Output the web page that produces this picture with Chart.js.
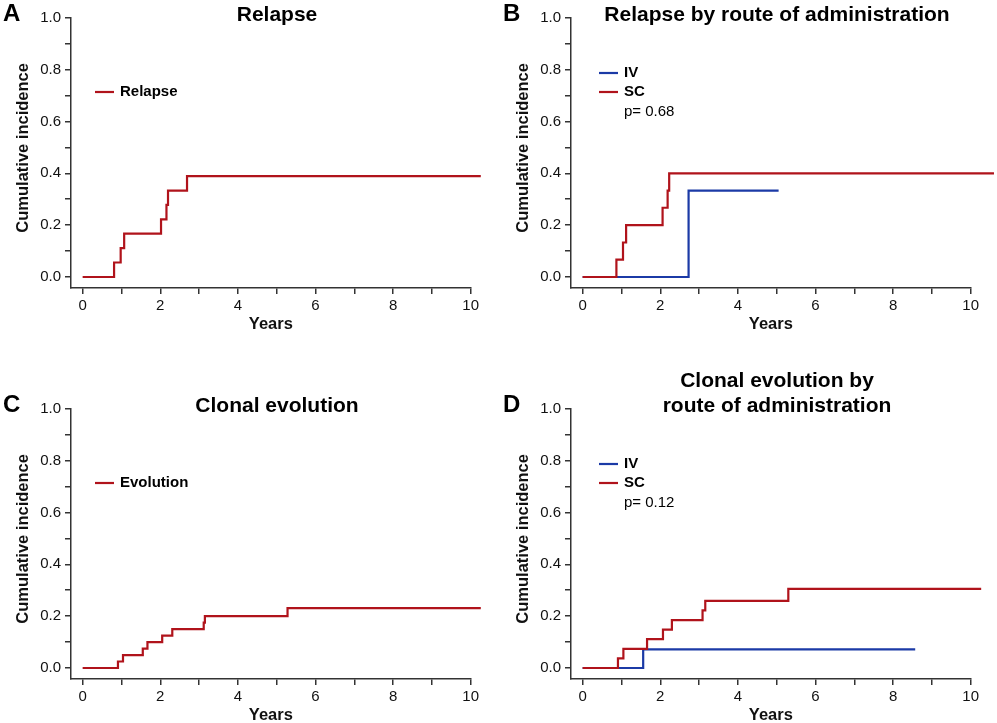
<!DOCTYPE html>
<html>
<head>
<meta charset="utf-8">
<script src="https://cdn.jsdelivr.net/npm/chart.js@4.4.1/dist/chart.umd.min.js"></script>
<style>
html,body{margin:0;padding:0;background:#fff;overflow:hidden;width:997px;height:723px;}
.panel{position:absolute;width:497px;height:370px;}
</style>
</head>
<body>
<div class="panel" style="left:0;top:-30px"><canvas id="chartA" width="497" height="370"></canvas></div>
<div class="panel" style="left:500px;top:-30px"><canvas id="chartB" width="497" height="370"></canvas></div>
<div class="panel" style="left:0;top:361px"><canvas id="chartC" width="497" height="370"></canvas></div>
<div class="panel" style="left:500px;top:361px"><canvas id="chartD" width="497" height="370"></canvas></div>
<script>
// cumulative incidence curves (years, incidence)
const relapseT = [0, 0.81, 0.98, 1.07, 2.02, 2.16, 2.20, 2.69, 10.26];
const relapseV = [0, 0.056, 0.111, 0.167, 0.222, 0.278, 0.333, 0.389, 0.389];

const relapseIvT = [0, 2.73, 5.05];
const relapseIvV = [0, 0.333, 0.333];
const relapseScT = [0, 0.87, 1.04, 1.12, 2.06, 2.19, 2.23, 10.6];
const relapseScV = [0, 0.067, 0.133, 0.2, 0.267, 0.333, 0.4, 0.4];

const evolutionT = [0, 0.91, 1.04, 1.55, 1.67, 2.05, 2.31, 3.12, 3.15, 5.28, 10.26];
const evolutionV = [0, 0.025, 0.05, 0.075, 0.1, 0.125, 0.15, 0.175, 0.2, 0.231, 0.231];

const evolutionIvT = [0, 1.56, 8.57];
const evolutionIvV = [0, 0.072, 0.072];
const evolutionScT = [0, 0.91, 1.05, 1.66, 2.07, 2.30, 3.09, 3.16, 5.30, 10.27];
const evolutionScV = [0, 0.037, 0.074, 0.111, 0.148, 0.185, 0.222, 0.259, 0.305, 0.305];

const xLabels = ['0', '2', '4', '6', '8', '10'];
const yLabels = ['0.0', '0.2', '0.4', '0.6', '0.8', '1.0'];

const FONT = "'Liberation Sans', Arial, Helvetica, sans-serif";
const RED = '#b0131b', BLUE = '#1b3aa6', AXIS = '#333';

Chart.defaults.font.family = FONT;
Chart.defaults.color = '#111';

function pts(t, v){ return t.map((x,i)=>({x:x, y:v[i]})); }

function curve(label, t, v, color, order){
  return {label:label, data:pts(t,v), borderColor:color, backgroundColor:color,
    borderWidth:2.2, pointRadius:0, stepped:true, fill:false, clip:false, order:order||1};
}

// panel letter, title, y title and in-plot legend
function decor(letter, titleLines, items, note, lx, ly){
  return {id:'decor', afterDraw(chart){
    const ctx=chart.ctx, a=chart.chartArea;
    ctx.save();
    ctx.fillStyle='#000';
    ctx.textBaseline='middle';
    ctx.textAlign='left';
    ctx.font='bold 24px '+FONT;
    ctx.fillText(letter, 3, 44);
    ctx.textAlign='center';
    ctx.font='bold 21px '+FONT;
    titleLines.forEach((t,i)=>ctx.fillText(t, a.left+206, 45-(titleLines.length-1-i)*24.5));
    ctx.save();
    ctx.translate(23.5, (a.top+a.bottom)/2-5);
    ctx.rotate(-Math.PI/2);
    ctx.font='bold 16.5px '+FONT;
    ctx.fillStyle='#111';
    ctx.fillText('Cumulative incidence', 0, 0);
    ctx.restore();
    ctx.textAlign='left';
    items.forEach((it,i)=>{
      const y=ly+i*19;
      ctx.strokeStyle=it.color; ctx.lineWidth=2.2;
      ctx.beginPath(); ctx.moveTo(lx,y); ctx.lineTo(lx+19,y); ctx.stroke();
      ctx.font='bold 15px '+FONT;
      ctx.fillText(it.label, lx+25, y);
    });
    if(note){
      ctx.font='15px '+FONT;
      ctx.fillText(note, lx+25, ly+items.length*19+1);
    }
    ctx.restore();
  }};
}

function makeChart(id, datasets, plugin){
  new Chart(document.getElementById(id).getContext('2d'),{
    type:'line',
    data:{datasets:datasets},
    plugins:[plugin],
    options:{
      responsive:false, animation:false, events:[],
      layout:{padding:{top:47.7, right:26.3, left:0, bottom:0}},
      plugins:{legend:{display:false}, tooltip:{enabled:false}},
      scales:{
        x:{type:'linear', min:-0.3, max:10,
          afterFit(s){ s.height=52; },
          border:{display:true, color:AXIS, width:1.5},
          grid:{drawOnChartArea:false, color:AXIS, lineWidth:1.5, tickLength:6},
          ticks:{stepSize:1, includeBounds:false, autoSkip:false, maxRotation:0, padding:3,
            font:{size:15}, color:'#111',
            callback:v=>(v%2===0 ? xLabels[v/2] : '')},
          title:{display:true, text:'Years', font:{size:16.5, weight:'bold'}, color:'#111', padding:{top:0, bottom:6}}
        },
        y:{min:-0.0424, max:1,
          afterFit(s){ s.width=71; },
          border:{display:true, color:AXIS, width:1.5},
          grid:{drawOnChartArea:false, color:AXIS, lineWidth:1.5, tickLength:6},
          ticks:{stepSize:0.1, includeBounds:false, autoSkip:false, padding:4,
            font:{size:15}, color:'#111',
            callback:v=>{ const k=Math.round(v*10); return k%2===0 ? yLabels[k/2] : ''; }}
        }
      }
    }
  });
}

makeChart('chartA',
  [curve('Relapse', relapseT, relapseV, RED)],
  decor('A', ['Relapse'], [{label:'Relapse', color:RED}], null, 95, 122));

makeChart('chartB',
  [curve('IV', relapseIvT, relapseIvV, BLUE, 2), curve('SC', relapseScT, relapseScV, RED, 1)],
  decor('B', ['Relapse by route of administration'], [{label:'IV', color:BLUE},{label:'SC', color:RED}], 'p= 0.68', 99, 103));

makeChart('chartC',
  [curve('Evolution', evolutionT, evolutionV, RED)],
  decor('C', ['Clonal evolution'], [{label:'Evolution', color:RED}], null, 95, 122));

makeChart('chartD',
  [curve('IV', evolutionIvT, evolutionIvV, BLUE, 2), curve('SC', evolutionScT, evolutionScV, RED, 1)],
  decor('D', ['Clonal evolution by', 'route of administration'], [{label:'IV', color:BLUE},{label:'SC', color:RED}], 'p= 0.12', 99, 103));
</script>
</body>
</html>
